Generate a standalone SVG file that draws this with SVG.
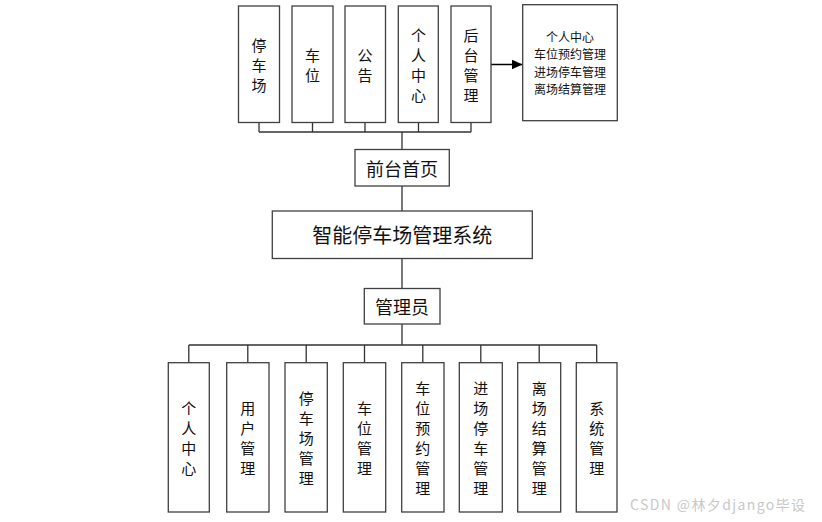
<svg xmlns="http://www.w3.org/2000/svg" width="822" height="522" viewBox="0 0 822 522">
<style>
.box{fill:#fff;stroke:#404040;stroke-width:1.3}
.ln{fill:none;stroke:#333;stroke-width:1.3}
.t{font-family:"Noto Sans CJK SC","Liberation Sans",sans-serif;fill:#111;text-anchor:middle;dominant-baseline:central}
.v{font-size:15px}
.s{font-size:12px}
.wm{font-family:"Noto Sans CJK SC","Liberation Sans",sans-serif;font-size:14px;fill:#c8c8c8}
</style>
<defs>
<marker id="ah" markerWidth="11" markerHeight="10" refX="11" refY="5" orient="auto" markerUnits="userSpaceOnUse">
<path d="M0,0 L11,5 L0,10 Z" fill="#000"/>
</marker>
</defs>
<rect width="822" height="522" fill="#fff"/>
<g id="connectors">
<path class="ln" d="M259,122 V132 M312.5,122 V132 M365,122 V132 M418.5,122 V132 M471,122 V132 M259,132 H471 M402,132 V149.5"/>
<path class="ln" d="M402,186 V211 M402,258.5 V288.5 M402,324 V345"/>
<path class="ln" d="M188.8,345 H596.7 M188.8,345 V362.7 M247.8,345 V362.7 M306.2,345 V362.7 M364.5,345 V362.7 M422.8,345 V362.7 M480.8,345 V362.7 M539.2,345 V362.7 M596.7,345 V362.7"/>
<path d="M491,64.5 H522.5" stroke="#000" stroke-width="1.5" marker-end="url(#ah)"/>
</g>
<g id="n-tcc"><rect class="box" x="238.5" y="6" width="41" height="116.5"/><text class="t v" x="259" y="44">停</text><text class="t v" x="259" y="64">车</text><text class="t v" x="259" y="84">场</text></g>
<g id="n-cw"><rect class="box" x="292" y="6" width="41" height="116.5"/><text class="t v" x="312.5" y="54">车</text><text class="t v" x="312.5" y="74">位</text></g>
<g id="n-gg"><rect class="box" x="345" y="6" width="40.5" height="116.5"/><text class="t v" x="365" y="54">公</text><text class="t v" x="365" y="74">告</text></g>
<g id="n-grzx"><rect class="box" x="398.3" y="6" width="40" height="116.5"/><text class="t v" x="418.5" y="34">个</text><text class="t v" x="418.5" y="54">人</text><text class="t v" x="418.5" y="74">中</text><text class="t v" x="418.5" y="94">心</text></g>
<g id="n-htgl"><rect class="box" x="451" y="6" width="40" height="116.5"/><text class="t v" x="471" y="34">后</text><text class="t v" x="471" y="54">台</text><text class="t v" x="471" y="74">管</text><text class="t v" x="471" y="94">理</text></g>
<g id="n-side"><rect class="box" x="522.7" y="4.7" width="94.6" height="116"/><text class="t s" x="570" y="36">个人中心</text><text class="t s" x="570" y="53.5">车位预约管理</text><text class="t s" x="570" y="71">进场停车管理</text><text class="t s" x="570" y="88.5">离场结算管理</text></g>
<g id="n-qtsy"><rect class="box" x="355" y="149.5" width="94.3" height="36.5"/><text class="t" style="font-size:18px" x="402" y="168">前台首页</text></g>
<g id="n-sys"><rect class="box" x="272.3" y="211" width="260" height="47.5"/><text class="t" style="font-size:20px" x="402.3" y="234">智能停车场管理系统</text></g>
<g id="n-gly"><rect class="box" x="364.3" y="288.5" width="75.7" height="35.5"/><text class="t" style="font-size:18px" x="402" y="306">管理员</text></g>
<g id="n-b1"><rect class="box" x="168.3" y="362.7" width="41" height="149.3"/><text class="t v" x="188.8" y="407">个</text><text class="t v" x="188.8" y="427">人</text><text class="t v" x="188.8" y="447">中</text><text class="t v" x="188.8" y="467">心</text></g>
<g id="n-b2"><rect class="box" x="226.7" y="362.7" width="42.3" height="149.3"/><text class="t v" x="247.8" y="407">用</text><text class="t v" x="247.8" y="427">户</text><text class="t v" x="247.8" y="447">管</text><text class="t v" x="247.8" y="467">理</text></g>
<g id="n-b3"><rect class="box" x="285" y="362.7" width="42.3" height="149.3"/><text class="t v" x="306.2" y="397">停</text><text class="t v" x="306.2" y="417">车</text><text class="t v" x="306.2" y="437">场</text><text class="t v" x="306.2" y="457">管</text><text class="t v" x="306.2" y="477">理</text></g>
<g id="n-b4"><rect class="box" x="343.3" y="362.7" width="42.4" height="149.3"/><text class="t v" x="364.5" y="407">车</text><text class="t v" x="364.5" y="427">位</text><text class="t v" x="364.5" y="447">管</text><text class="t v" x="364.5" y="467">理</text></g>
<g id="n-b5"><rect class="box" x="401.7" y="362.7" width="42.3" height="149.3"/><text class="t v" x="422.8" y="387">车</text><text class="t v" x="422.8" y="407">位</text><text class="t v" x="422.8" y="427">预</text><text class="t v" x="422.8" y="447">约</text><text class="t v" x="422.8" y="467">管</text><text class="t v" x="422.8" y="487">理</text></g>
<g id="n-b6"><rect class="box" x="459.3" y="362.7" width="43" height="149.3"/><text class="t v" x="480.8" y="387">进</text><text class="t v" x="480.8" y="407">场</text><text class="t v" x="480.8" y="427">停</text><text class="t v" x="480.8" y="447">车</text><text class="t v" x="480.8" y="467">管</text><text class="t v" x="480.8" y="487">理</text></g>
<g id="n-b7"><rect class="box" x="517.7" y="362.7" width="43" height="149.3"/><text class="t v" x="539.2" y="387">离</text><text class="t v" x="539.2" y="407">场</text><text class="t v" x="539.2" y="427">结</text><text class="t v" x="539.2" y="447">算</text><text class="t v" x="539.2" y="467">管</text><text class="t v" x="539.2" y="487">理</text></g>
<g id="n-b8"><rect class="box" x="576.3" y="362.7" width="40.7" height="149.3"/><text class="t v" x="596.7" y="407">系</text><text class="t v" x="596.7" y="427">统</text><text class="t v" x="596.7" y="447">管</text><text class="t v" x="596.7" y="467">理</text></g>
<text class="wm" x="630" y="510" textLength="175" lengthAdjust="spacing">CSDN @林夕django毕设</text>
</svg>
